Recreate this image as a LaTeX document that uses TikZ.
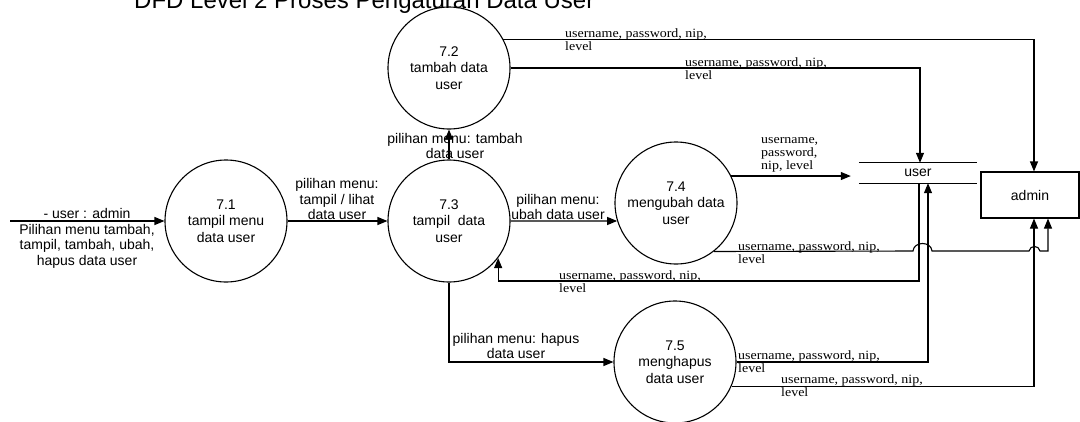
\documentclass[tikz,border=0pt]{standalone}
\usepackage{fontspec}
\setmainfont{Liberation Sans}
\newfontfamily\lblfont[FakeStretch=1.1]{Liberation Serif}
\usetikzlibrary{arrows.meta,calc}
\begin{document}
\begin{tikzpicture}[x=1pt,y=-1pt,
  proc/.style={circle,draw,line width=1.1pt,minimum size=122pt,inner sep=0pt,align=center,font=\fontsize{14}{16.5}\selectfont},
  flow/.style={line width=1.1pt,-{Triangle[length=10pt,width=8pt]}},
  plain/.style={line width=1.1pt},
  lab/.style={align=center,inner sep=0pt,font=\fontsize{14}{15.7}\selectfont},
  dlab/.style={align=left,anchor=north west,inner sep=0pt,font=\lblfont\fontsize{12.7}{13}\selectfont}]
\useasboundingbox (0,0) rectangle (1080,421);
\fill[white] (0,0) rectangle (1080,421);

% title (cut off at the top)
\node[anchor=base west,inner sep=0pt,font=\fontsize{24}{26}\selectfont] (title) at (134,8) {DFD Level 2 Proses Pengaturan Data User};

% processes
\node[proc] (c71) at (226,221) {7.1\\tampil menu\\data user};
\node[proc] (c72) at (449,68) {7.2\\tambah data\\user};
\node[proc] (c73) at (449,221) {7.3\\tampil\ \ data\\user};
\node[proc] (c74) at (676,203) {7.4\\mengubah data\\user};
\node[proc] (c75) at (675,362) {7.5\\menghapus\\data user};

% data store and entity
\node[minimum width=118pt,minimum height=20pt,inner sep=0pt,font=\fontsize{14}{16}\selectfont] (store) at (918,173) {user};
\draw[plain] (store.north west) -- (store.north east);
\draw[plain] (store.south west) -- (store.south east);
\node[draw,line width=1.1pt,minimum width=98pt,minimum height=46pt,inner sep=0pt,font=\fontsize{14}{16}\selectfont] (admin) at (1030,195) {admin};

% helper coordinates
\coordinate (src) at (10,221);
\coordinate (sw) at ([xshift=-8pt]store.west);
\coordinate (y281) at (0,281);

% flows
\draw[flow] (src) -- (c71.west);
\node[lab] (l71) at (87,238.5) {- user : admin\\Pilihan menu tambah,\\tampil, tambah, ubah,\\hapus data user};

\draw[flow] (c71.east) -- (c73.west);
\node[lab] (l13) at (337,199) {pilihan menu:\\tampil / lihat\\data user};

\draw[flow] (c73.north) -- (c72.south);
\node[lab] (l32) at (455,146) {pilihan menu: tambah\\data user};

\draw[flow] (c73.east) -- (c74.197);
\node[lab] (l34) at (558,207) {pilihan menu:\\ubah data user};

\draw[flow] (c73.south) |- (c75.west);
\node[lab] (l35) at (516,346) {pilihan menu: hapus\\data user};

\draw[flow] (c72.28) -| ([xshift=4pt]admin.north);
\node[dlab] (d1) at (565,28) {username, password, nip,\\level};

\draw[flow] (c72.east) -| ([xshift=2pt]store.north);
\node[dlab] (d2) at (685,57) {username, password, nip,\\level};

\draw[flow] (c74.26) -- (c74.26 -| sw);
\node[dlab] (d3) at (761,137) {username,\\password,\\nip, level};

\draw[flow] ([xshift=1pt]store.south) |- (c73.-37 |- y281) -- (c73.-37);
\node[dlab] (d5) at (559,270) {username, password, nip,\\level};

\draw[flow] (c75.east) -| ([xshift=10pt]store.south);
\node[dlab] (d6) at (738,350) {username, password, nip,\\level};

\draw[flow] (c75.-23) -| ([xshift=4pt]admin.south);
\node[dlab] (d7) at (781,374) {username, password, nip,\\level};

\draw[flow] (c74.-52) -- (913,251) .. controls (914,241) and (931,241) .. (932,251)
  -- (1029,251) .. controls (1030,245) and (1039,245) .. (1040,251)
  -- (1048,251) -- ([xshift=18pt]admin.south);
\node[dlab] (d4) at (738,241) {username, password, nip,\\level};
\end{tikzpicture}
\end{document}
